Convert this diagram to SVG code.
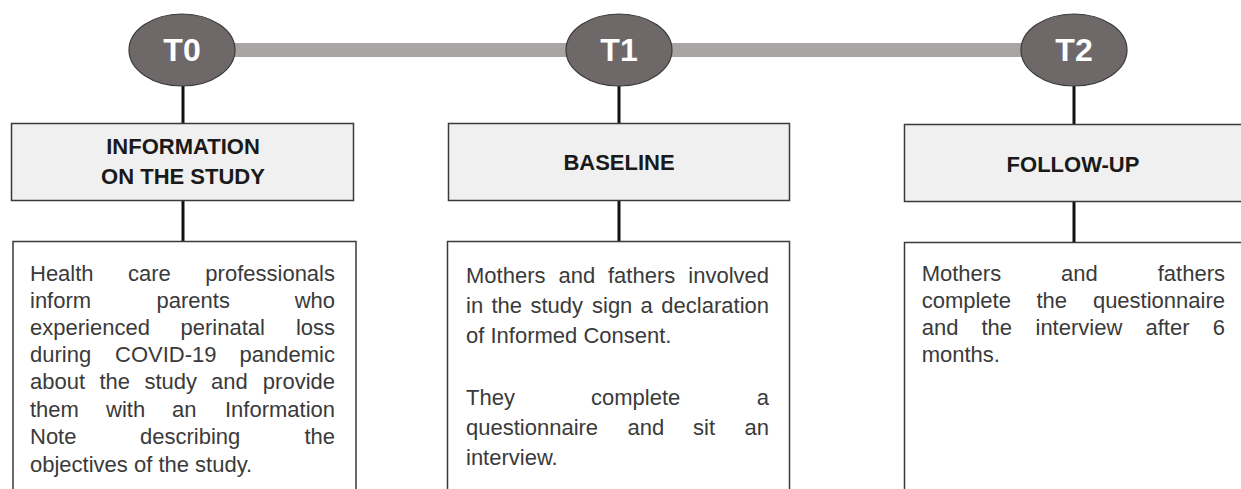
<svg xmlns="http://www.w3.org/2000/svg" width="1241" height="489" viewBox="0 0 1241 489">
<style>
.bar{stroke:#a8a5a4;stroke-width:14}
.conn{stroke:#111;stroke-width:3}
.oval{fill:#6e6968;stroke:#3a3a3a;stroke-width:1.2}
.olab{font-family:"Liberation Sans",Arial,sans-serif;font-weight:bold;font-size:32px;fill:#fff;text-anchor:middle}
.head{fill:#f0f0f0;stroke:#3a3a3a;stroke-width:1.5}
.hlab{font-family:"Liberation Sans",Arial,sans-serif;font-weight:bold;font-size:22px;fill:#1a1a1a;text-anchor:middle}
.body{fill:#fff;stroke:#3a3a3a;stroke-width:1.5}
.txt{font-family:"Liberation Sans",Arial,sans-serif;font-size:22px;fill:#3a3a3a}
.e{text-anchor:end}
</style>
<rect width="1241" height="489" fill="#fff"/>
<g id="connectors">
<line class="bar" x1="230" y1="50" x2="1025" y2="50"/>
<line class="conn" x1="183" y1="86" x2="183" y2="123"/>
<line class="conn" x1="183" y1="201" x2="183" y2="241"/>
<line class="conn" x1="619" y1="86" x2="619" y2="123"/>
<line class="conn" x1="619" y1="201" x2="619" y2="241"/>
<line class="conn" x1="1074" y1="86" x2="1074" y2="124"/>
<line class="conn" x1="1074" y1="202" x2="1074" y2="242"/>
</g>
<g id="T0">
<ellipse class="oval" cx="182" cy="50" rx="53" ry="36"/>
<text class="olab" x="182" y="61">T0</text>
</g>
<g id="T1">
<ellipse class="oval" cx="619" cy="50" rx="53" ry="36"/>
<text class="olab" x="619" y="61">T1</text>
</g>
<g id="T2">
<ellipse class="oval" cx="1074" cy="50" rx="53" ry="36"/>
<text class="olab" x="1074" y="61">T2</text>
</g>
<g id="info-header">
<rect class="head" x="11.5" y="123.5" width="342" height="77"/>
<text class="hlab" x="183" y="154">INFORMATION</text>
<text class="hlab" x="183" y="184">ON THE STUDY</text>
</g>
<g id="baseline-header">
<rect class="head" x="448.5" y="123.5" width="341" height="77"/>
<text class="hlab" x="619" y="170">BASELINE</text>
</g>
<g id="followup-header">
<rect class="head" x="904.5" y="124.5" width="345" height="77"/>
<text class="hlab" x="1073" y="172">FOLLOW-UP</text>
</g>
<g id="info-text">
<rect class="body" x="13" y="241.5" width="343" height="260"/>
<text class="txt" x="30" y="281">Health</text><text class="txt" x="128" y="281">care</text><text class="txt e" x="335" y="281">professionals</text>
<text class="txt" x="30" y="307.5">inform</text><text class="txt" x="156.5" y="307.5">parents</text><text class="txt e" x="335" y="307.5">who</text>
<text class="txt" x="30" y="335">experienced</text><text class="txt" x="180.5" y="335">perinatal</text><text class="txt e" x="335" y="335">loss</text>
<text class="txt" x="30" y="362">during</text><text class="txt" x="115" y="362">COVID-19</text><text class="txt e" x="335" y="362">pandemic</text>
<text class="txt" x="30" y="389">about</text><text class="txt" x="99.5" y="389">the</text><text class="txt" x="144.5" y="389">study</text><text class="txt" x="211" y="389">and</text><text class="txt e" x="335" y="389">provide</text>
<text class="txt" x="30" y="417">them</text><text class="txt" x="106" y="417">with</text><text class="txt" x="172" y="417">an</text><text class="txt e" x="335" y="417">Information</text>
<text class="txt" x="30" y="444">Note</text><text class="txt" x="140" y="444">describing</text><text class="txt e" x="335" y="444">the</text>
<text class="txt" x="30" y="472">objectives of the study.</text>
</g>
<g id="baseline-text">
<rect class="body" x="447.5" y="241.5" width="342" height="260"/>
<text class="txt" x="466" y="283">Mothers</text><text class="txt" x="558.5" y="283">and</text><text class="txt" x="608" y="283">fathers</text><text class="txt e" x="769" y="283">involved</text>
<text class="txt" x="466" y="313">in</text><text class="txt" x="491.5" y="313">the</text><text class="txt" x="530.5" y="313">study</text><text class="txt" x="592" y="313">sign</text><text class="txt" x="640.5" y="313">a</text><text class="txt e" x="769" y="313">declaration</text>
<text class="txt" x="466" y="343">of Informed Consent.</text>
<text class="txt" x="466" y="405">They</text><text class="txt" x="591" y="405">complete</text><text class="txt e" x="769" y="405">a</text>
<text class="txt" x="466" y="435">questionnaire</text><text class="txt" x="627.5" y="435">and</text><text class="txt" x="693" y="435">sit</text><text class="txt e" x="769" y="435">an</text>
<text class="txt" x="466" y="465">interview.</text>
</g>
<g id="followup-text">
<rect class="body" x="904.5" y="242.5" width="345" height="260"/>
<text class="txt" x="921.7" y="281">Mothers</text><text class="txt" x="1061" y="281">and</text><text class="txt e" x="1225" y="281">fathers</text>
<text class="txt" x="921.7" y="307.5">complete</text><text class="txt" x="1036.5" y="307.5">the</text><text class="txt e" x="1225" y="307.5">questionnaire</text>
<text class="txt" x="921.7" y="335">and</text><text class="txt" x="981.5" y="335">the</text><text class="txt" x="1035.5" y="335">interview</text><text class="txt" x="1145.5" y="335">after</text><text class="txt e" x="1225" y="335">6</text>
<text class="txt" x="921.7" y="362">months.</text>
</g>
</svg>
